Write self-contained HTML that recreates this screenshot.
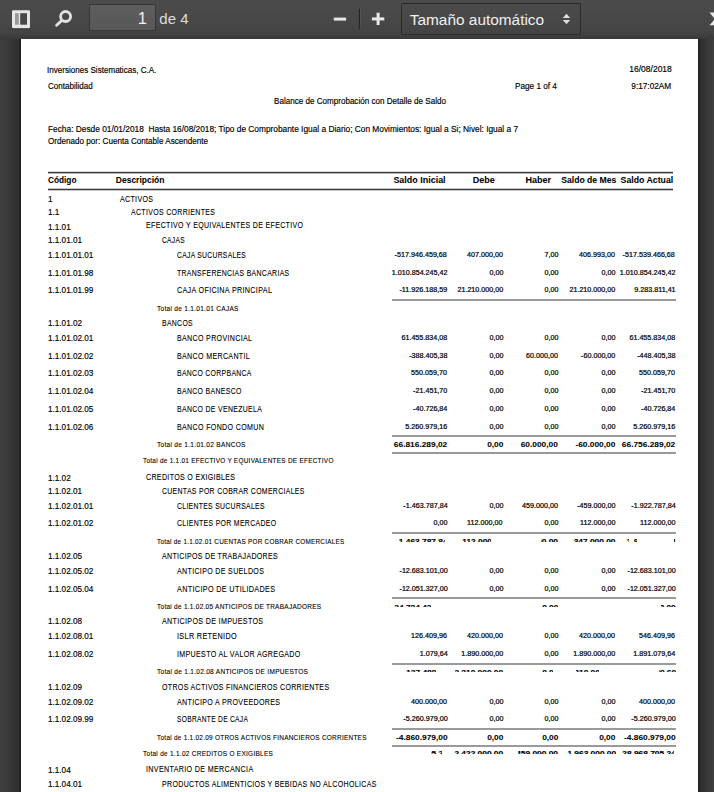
<!DOCTYPE html>
<html><head><meta charset="utf-8"><style>
html,body{margin:0;padding:0;width:714px;height:792px;overflow:hidden;background:#3d3d3d;}
body{position:relative;font-family:"Liberation Sans",sans-serif;}
#doc span{position:absolute;white-space:nowrap;line-height:normal;color:#000;-webkit-text-stroke:0.16px #000;}
#leftbg{position:absolute;left:0;top:39px;width:21px;height:753px;background:linear-gradient(90deg,#3e3e3e 0px,#3a3a3a 8px,#2e2e2e 19px,#1e1e1e 20px,#1e1e1e 21px);}
#rightbg{position:absolute;left:698px;top:39px;width:16px;height:753px;background:linear-gradient(90deg,#1e1e1e 0px,#2c2c2c 2px,#393939 10px,#3e3e3e 16px);}
#pagebg{position:absolute;left:21px;top:39px;width:677px;height:753px;background:#fff;}
#toolbar{position:absolute;left:0;top:0;width:714px;height:39px;background:linear-gradient(#4b4b4b 0%,#474747 60%,#434343 85%,#383838 100%);z-index:5;}
#toolbar .ic{position:absolute;z-index:2;}
.tf{position:absolute;box-sizing:border-box;border:1px solid rgba(0,0,0,.4);border-radius:2px;}
.tt{position:absolute;white-space:nowrap;line-height:normal;font-family:"Liberation Sans",sans-serif;}

</style></head><body>
<div id="leftbg"></div>
<div id="rightbg"></div>
<div id="pagebg"></div>
<div id="toolbar">
  <svg class="ic" style="left:0;top:0" width="714" height="39" viewBox="0 0 714 39">
    <!-- sidebar toggle -->
    <rect x="12" y="10.2" width="18" height="18" rx="1.2" fill="#e6e6e6"/>
    <rect x="12" y="28.2" width="18" height="1" fill="rgba(0,0,0,.25)"/>
    <rect x="15" y="13.2" width="3.8" height="11.5" fill="#9a9a9a"/>
    <rect x="20.2" y="13.2" width="6.8" height="11.5" fill="#484848"/>
    <!-- search -->
    <circle cx="65.6" cy="16.5" r="5" fill="none" stroke="#e2e2e2" stroke-width="2.8"/>
    <line x1="56.6" y1="25.2" x2="61.6" y2="20.6" stroke="#e2e2e2" stroke-width="2.8" stroke-linecap="round"/>
    <!-- minus -->
    <rect x="333.8" y="17.6" width="12.3" height="3" fill="#e8e8e8"/>
    <!-- separator -->
    <rect x="358.8" y="8.8" width="1.2" height="20" fill="#262626"/>
    <rect x="360" y="8.8" width="1" height="20" fill="rgba(255,255,255,.05)"/>
    <!-- plus -->
    <rect x="371.9" y="17.4" width="12.4" height="3" fill="#e8e8e8"/>
    <rect x="376.6" y="12.7" width="3" height="12.3" fill="#e8e8e8"/>
    <!-- select arrows -->
    <polygon points="562.8,18.1 570.2,18.1 566.5,13.7" fill="#e0e0e0"/>
    <polygon points="562.8,20.1 570.2,20.1 566.5,24.2" fill="#e0e0e0"/>
    <!-- partial right icon -->
    <polygon points="709.5,12.6 714,12.6 714,18 " fill="#e8e8e8"/>
    <polygon points="709.5,25.2 714,25.2 714,20 " fill="#e8e8e8"/>
  </svg>
  <div class="tf" style="left:89px;top:4px;width:67px;height:27px;background:linear-gradient(#5e5e5e,#575757);"></div>
  <div class="tt" style="right:567.2px;top:9.3px;font-size:16.5px;color:#f0f0f0;">1</div>
  <div class="tt" style="left:159.3px;top:10.3px;font-size:15px;color:#dcdcdc;">de 4</div>
  <div class="tf" style="left:401px;top:3px;width:180px;height:32px;background:linear-gradient(#4b4b4b,#444);"></div>
  <div class="tt" style="left:409.8px;top:11.3px;font-size:15.4px;color:#f0f0f0;">Tamaño automático</div>
</div>

<div id="doc" style="position:absolute;left:0;top:0;width:714px;height:792px;">
<div style='position:absolute;left:48px;top:171px;width:625px;height:1px;background:#d8d8d8;'></div>
<div style='position:absolute;left:47.5px;top:172px;width:625.7px;height:1px;background:#3a3a3a;'></div>
<div style='position:absolute;left:48px;top:173px;width:625px;height:1px;background:#b8b8b8;'></div>
<div style='position:absolute;left:48px;top:188px;width:625px;height:1px;background:#c8c8c8;'></div>
<div style='position:absolute;left:47.5px;top:189px;width:625.7px;height:1px;background:#3a3a3a;'></div>
<div style='position:absolute;left:48px;top:190px;width:625px;height:1px;background:#c8c8c8;'></div>
<div style='position:absolute;left:392px;top:299px;width:284px;height:2px;background:#9a9a9a;'></div>
<div style='position:absolute;left:392px;top:435px;width:284px;height:2px;background:#9a9a9a;'></div>
<div style='position:absolute;left:392px;top:452px;width:284px;height:2px;background:#9a9a9a;'></div>
<div style='position:absolute;left:392px;top:532px;width:284px;height:2px;background:#9a9a9a;'></div>
<div style='position:absolute;left:392px;top:597px;width:284px;height:2px;background:#9a9a9a;'></div>
<div style='position:absolute;left:392px;top:663px;width:284px;height:2px;background:#9a9a9a;'></div>
<div style='position:absolute;left:392px;top:728px;width:284px;height:2px;background:#9a9a9a;'></div>
<div style='position:absolute;left:392px;top:745px;width:284px;height:2px;background:#9a9a9a;'></div><div style='position:absolute;left:395px;top:538.3px;width:49.50px;height:3.30px;overflow:hidden;'><span style='top:-1.00px;right:-3.20px;font-size:7.4px;font-weight:bold;transform-origin:100% 0;transform:scaleX(1.13);'>-1.463.787,84</span><span style='top:-1.00px;right:-58.80px;font-size:7.4px;font-weight:bold;transform-origin:100% 0;transform:scaleX(1.13);'>112.000,00</span><span style='top:-1.00px;right:-113.80px;font-size:7.4px;font-weight:bold;transform-origin:100% 0;transform:scaleX(1.13);'>459.000,00</span><span style='top:-1.00px;right:-171.20px;font-size:7.4px;font-weight:bold;transform-origin:100% 0;transform:scaleX(1.13);'>-347.000,00</span><span style='top:-1.00px;right:-231.20px;font-size:7.4px;font-weight:bold;transform-origin:100% 0;transform:scaleX(1.13);'>-1.810.787,84</span></div>
<div style='position:absolute;left:461.5px;top:538.3px;width:29.50px;height:3.30px;overflow:hidden;'><span style='top:-1.00px;right:43.30px;font-size:7.4px;font-weight:bold;transform-origin:100% 0;transform:scaleX(1.13);'>-1.463.787,84</span><span style='top:-1.00px;right:-12.30px;font-size:7.4px;font-weight:bold;transform-origin:100% 0;transform:scaleX(1.13);'>112.000,00</span><span style='top:-1.00px;right:-67.30px;font-size:7.4px;font-weight:bold;transform-origin:100% 0;transform:scaleX(1.13);'>459.000,00</span><span style='top:-1.00px;right:-124.70px;font-size:7.4px;font-weight:bold;transform-origin:100% 0;transform:scaleX(1.13);'>-347.000,00</span><span style='top:-1.00px;right:-184.70px;font-size:7.4px;font-weight:bold;transform-origin:100% 0;transform:scaleX(1.13);'>-1.810.787,84</span></div>
<div style='position:absolute;left:540.5px;top:538.3px;width:18.50px;height:3.30px;overflow:hidden;'><span style='top:-1.00px;right:111.30px;font-size:7.4px;font-weight:bold;transform-origin:100% 0;transform:scaleX(1.13);'>-1.463.787,84</span><span style='top:-1.00px;right:55.70px;font-size:7.4px;font-weight:bold;transform-origin:100% 0;transform:scaleX(1.13);'>112.000,00</span><span style='top:-1.00px;right:0.70px;font-size:7.4px;font-weight:bold;transform-origin:100% 0;transform:scaleX(1.13);'>459.000,00</span><span style='top:-1.00px;right:-56.70px;font-size:7.4px;font-weight:bold;transform-origin:100% 0;transform:scaleX(1.13);'>-347.000,00</span><span style='top:-1.00px;right:-116.70px;font-size:7.4px;font-weight:bold;transform-origin:100% 0;transform:scaleX(1.13);'>-1.810.787,84</span></div>
<div style='position:absolute;left:572.5px;top:538.3px;width:43.50px;height:3.30px;overflow:hidden;'><span style='top:-1.00px;right:168.30px;font-size:7.4px;font-weight:bold;transform-origin:100% 0;transform:scaleX(1.13);'>-1.463.787,84</span><span style='top:-1.00px;right:112.70px;font-size:7.4px;font-weight:bold;transform-origin:100% 0;transform:scaleX(1.13);'>112.000,00</span><span style='top:-1.00px;right:57.70px;font-size:7.4px;font-weight:bold;transform-origin:100% 0;transform:scaleX(1.13);'>459.000,00</span><span style='top:-1.00px;right:0.30px;font-size:7.4px;font-weight:bold;transform-origin:100% 0;transform:scaleX(1.13);'>-347.000,00</span><span style='top:-1.00px;right:-59.70px;font-size:7.4px;font-weight:bold;transform-origin:100% 0;transform:scaleX(1.13);'>-1.810.787,84</span></div>
<div style='position:absolute;left:625.5px;top:538.3px;width:3.00px;height:3.30px;overflow:hidden;'><span style='top:-1.00px;right:180.80px;font-size:7.4px;font-weight:bold;transform-origin:100% 0;transform:scaleX(1.13);'>-1.463.787,84</span><span style='top:-1.00px;right:125.20px;font-size:7.4px;font-weight:bold;transform-origin:100% 0;transform:scaleX(1.13);'>112.000,00</span><span style='top:-1.00px;right:70.20px;font-size:7.4px;font-weight:bold;transform-origin:100% 0;transform:scaleX(1.13);'>459.000,00</span><span style='top:-1.00px;right:12.80px;font-size:7.4px;font-weight:bold;transform-origin:100% 0;transform:scaleX(1.13);'>-347.000,00</span><span style='top:-1.00px;right:-47.20px;font-size:7.4px;font-weight:bold;transform-origin:100% 0;transform:scaleX(1.13);'>-1.810.787,84</span></div>
<div style='position:absolute;left:633.5px;top:538.3px;width:3.00px;height:3.30px;overflow:hidden;'><span style='top:-1.00px;right:188.80px;font-size:7.4px;font-weight:bold;transform-origin:100% 0;transform:scaleX(1.13);'>-1.463.787,84</span><span style='top:-1.00px;right:133.20px;font-size:7.4px;font-weight:bold;transform-origin:100% 0;transform:scaleX(1.13);'>112.000,00</span><span style='top:-1.00px;right:78.20px;font-size:7.4px;font-weight:bold;transform-origin:100% 0;transform:scaleX(1.13);'>459.000,00</span><span style='top:-1.00px;right:20.80px;font-size:7.4px;font-weight:bold;transform-origin:100% 0;transform:scaleX(1.13);'>-347.000,00</span><span style='top:-1.00px;right:-39.20px;font-size:7.4px;font-weight:bold;transform-origin:100% 0;transform:scaleX(1.13);'>-1.810.787,84</span></div>
<div style='position:absolute;left:673.5px;top:538.3px;width:2.50px;height:3.30px;overflow:hidden;'><span style='top:-1.00px;right:228.30px;font-size:7.4px;font-weight:bold;transform-origin:100% 0;transform:scaleX(1.13);'>-1.463.787,84</span><span style='top:-1.00px;right:172.70px;font-size:7.4px;font-weight:bold;transform-origin:100% 0;transform:scaleX(1.13);'>112.000,00</span><span style='top:-1.00px;right:117.70px;font-size:7.4px;font-weight:bold;transform-origin:100% 0;transform:scaleX(1.13);'>459.000,00</span><span style='top:-1.00px;right:60.30px;font-size:7.4px;font-weight:bold;transform-origin:100% 0;transform:scaleX(1.13);'>-347.000,00</span><span style='top:-1.00px;right:0.30px;font-size:7.4px;font-weight:bold;transform-origin:100% 0;transform:scaleX(1.13);'>-1.810.787,84</span></div>
<div style='position:absolute;left:393.5px;top:604.0px;width:37.00px;height:3.20px;overflow:hidden;'><span style='top:-1.10px;right:-17.20px;font-size:7.4px;font-weight:bold;transform-origin:100% 0;transform:scaleX(1.13);'>-24.734.428,00</span><span style='top:-1.10px;right:-72.80px;font-size:7.4px;font-weight:bold;transform-origin:100% 0;transform:scaleX(1.13);'>0,00</span><span style='top:-1.10px;right:-127.80px;font-size:7.4px;font-weight:bold;transform-origin:100% 0;transform:scaleX(1.13);'>0,00</span><span style='top:-1.10px;right:-185.20px;font-size:7.4px;font-weight:bold;transform-origin:100% 0;transform:scaleX(1.13);'>0,00</span><span style='top:-1.10px;right:-245.20px;font-size:7.4px;font-weight:bold;transform-origin:100% 0;transform:scaleX(1.13);'>-24.734.428,00</span></div>
<div style='position:absolute;left:541.5px;top:604.0px;width:16.00px;height:3.20px;overflow:hidden;'><span style='top:-1.10px;right:109.80px;font-size:7.4px;font-weight:bold;transform-origin:100% 0;transform:scaleX(1.13);'>-24.734.428,00</span><span style='top:-1.10px;right:54.20px;font-size:7.4px;font-weight:bold;transform-origin:100% 0;transform:scaleX(1.13);'>0,00</span><span style='top:-1.10px;right:-0.80px;font-size:7.4px;font-weight:bold;transform-origin:100% 0;transform:scaleX(1.13);'>0,00</span><span style='top:-1.10px;right:-58.20px;font-size:7.4px;font-weight:bold;transform-origin:100% 0;transform:scaleX(1.13);'>0,00</span><span style='top:-1.10px;right:-118.20px;font-size:7.4px;font-weight:bold;transform-origin:100% 0;transform:scaleX(1.13);'>-24.734.428,00</span></div>
<div style='position:absolute;left:661px;top:604.0px;width:15.00px;height:3.20px;overflow:hidden;'><span style='top:-1.10px;right:228.30px;font-size:7.4px;font-weight:bold;transform-origin:100% 0;transform:scaleX(1.13);'>-24.734.428,00</span><span style='top:-1.10px;right:172.70px;font-size:7.4px;font-weight:bold;transform-origin:100% 0;transform:scaleX(1.13);'>0,00</span><span style='top:-1.10px;right:117.70px;font-size:7.4px;font-weight:bold;transform-origin:100% 0;transform:scaleX(1.13);'>0,00</span><span style='top:-1.10px;right:60.30px;font-size:7.4px;font-weight:bold;transform-origin:100% 0;transform:scaleX(1.13);'>0,00</span><span style='top:-1.10px;right:0.30px;font-size:7.4px;font-weight:bold;transform-origin:100% 0;transform:scaleX(1.13);'>-24.734.428,00</span></div>
<div style='position:absolute;left:405px;top:668.8px;width:31.00px;height:3.50px;overflow:hidden;'><span style='top:-0.90px;right:-11.70px;font-size:7.4px;font-weight:bold;transform-origin:100% 0;transform:scaleX(1.13);'>127.489,60</span><span style='top:-0.90px;right:-67.30px;font-size:7.4px;font-weight:bold;transform-origin:100% 0;transform:scaleX(1.13);'>2.310.000,00</span><span style='top:-0.90px;right:-122.30px;font-size:7.4px;font-weight:bold;transform-origin:100% 0;transform:scaleX(1.13);'>0,00</span><span style='top:-0.90px;right:-179.70px;font-size:7.4px;font-weight:bold;transform-origin:100% 0;transform:scaleX(1.13);'>2.310.000,00</span><span style='top:-0.90px;right:-239.70px;font-size:7.4px;font-weight:bold;transform-origin:100% 0;transform:scaleX(1.13);'>2.437.489,60</span></div>
<div style='position:absolute;left:454.5px;top:668.8px;width:49.50px;height:3.50px;overflow:hidden;'><span style='top:-0.90px;right:56.30px;font-size:7.4px;font-weight:bold;transform-origin:100% 0;transform:scaleX(1.13);'>127.489,60</span><span style='top:-0.90px;right:0.70px;font-size:7.4px;font-weight:bold;transform-origin:100% 0;transform:scaleX(1.13);'>2.310.000,00</span><span style='top:-0.90px;right:-54.30px;font-size:7.4px;font-weight:bold;transform-origin:100% 0;transform:scaleX(1.13);'>0,00</span><span style='top:-0.90px;right:-111.70px;font-size:7.4px;font-weight:bold;transform-origin:100% 0;transform:scaleX(1.13);'>2.310.000,00</span><span style='top:-0.90px;right:-171.70px;font-size:7.4px;font-weight:bold;transform-origin:100% 0;transform:scaleX(1.13);'>2.437.489,60</span></div>
<div style='position:absolute;left:541.5px;top:668.8px;width:11.50px;height:3.50px;overflow:hidden;'><span style='top:-0.90px;right:105.30px;font-size:7.4px;font-weight:bold;transform-origin:100% 0;transform:scaleX(1.13);'>127.489,60</span><span style='top:-0.90px;right:49.70px;font-size:7.4px;font-weight:bold;transform-origin:100% 0;transform:scaleX(1.13);'>2.310.000,00</span><span style='top:-0.90px;right:-5.30px;font-size:7.4px;font-weight:bold;transform-origin:100% 0;transform:scaleX(1.13);'>0,00</span><span style='top:-0.90px;right:-62.70px;font-size:7.4px;font-weight:bold;transform-origin:100% 0;transform:scaleX(1.13);'>2.310.000,00</span><span style='top:-0.90px;right:-122.70px;font-size:7.4px;font-weight:bold;transform-origin:100% 0;transform:scaleX(1.13);'>2.437.489,60</span></div>
<div style='position:absolute;left:576px;top:668.8px;width:22.50px;height:3.50px;overflow:hidden;'><span style='top:-0.90px;right:150.80px;font-size:7.4px;font-weight:bold;transform-origin:100% 0;transform:scaleX(1.13);'>127.489,60</span><span style='top:-0.90px;right:95.20px;font-size:7.4px;font-weight:bold;transform-origin:100% 0;transform:scaleX(1.13);'>2.310.000,00</span><span style='top:-0.90px;right:40.20px;font-size:7.4px;font-weight:bold;transform-origin:100% 0;transform:scaleX(1.13);'>0,00</span><span style='top:-0.90px;right:-17.20px;font-size:7.4px;font-weight:bold;transform-origin:100% 0;transform:scaleX(1.13);'>2.310.000,00</span><span style='top:-0.90px;right:-77.20px;font-size:7.4px;font-weight:bold;transform-origin:100% 0;transform:scaleX(1.13);'>2.437.489,60</span></div>
<div style='position:absolute;left:659px;top:668.8px;width:17.00px;height:3.50px;overflow:hidden;'><span style='top:-0.90px;right:228.30px;font-size:7.4px;font-weight:bold;transform-origin:100% 0;transform:scaleX(1.13);'>127.489,60</span><span style='top:-0.90px;right:172.70px;font-size:7.4px;font-weight:bold;transform-origin:100% 0;transform:scaleX(1.13);'>2.310.000,00</span><span style='top:-0.90px;right:117.70px;font-size:7.4px;font-weight:bold;transform-origin:100% 0;transform:scaleX(1.13);'>0,00</span><span style='top:-0.90px;right:60.30px;font-size:7.4px;font-weight:bold;transform-origin:100% 0;transform:scaleX(1.13);'>2.310.000,00</span><span style='top:-0.90px;right:0.30px;font-size:7.4px;font-weight:bold;transform-origin:100% 0;transform:scaleX(1.13);'>2.437.489,60</span></div>
<div style='position:absolute;left:392px;top:750.3px;width:1.50px;height:4.20px;overflow:hidden;'><span style='top:-1.40px;right:-54.20px;font-size:7.4px;font-weight:bold;transform-origin:100% 0;transform:scaleX(1.13);'>-30.931.705,24</span><span style='top:-1.40px;right:-109.80px;font-size:7.4px;font-weight:bold;transform-origin:100% 0;transform:scaleX(1.13);'>2.422.000,00</span><span style='top:-1.40px;right:-164.80px;font-size:7.4px;font-weight:bold;transform-origin:100% 0;transform:scaleX(1.13);'>459.000,00</span><span style='top:-1.40px;right:-222.20px;font-size:7.4px;font-weight:bold;transform-origin:100% 0;transform:scaleX(1.13);'>1.963.000,00</span><span style='top:-1.40px;right:-282.20px;font-size:7.4px;font-weight:bold;transform-origin:100% 0;transform:scaleX(1.13);'>-28.968.705,24</span></div>
<div style='position:absolute;left:431px;top:750.3px;width:11.00px;height:4.20px;overflow:hidden;'><span style='top:-1.40px;right:-5.70px;font-size:7.4px;font-weight:bold;transform-origin:100% 0;transform:scaleX(1.13);'>-30.931.705,24</span><span style='top:-1.40px;right:-61.30px;font-size:7.4px;font-weight:bold;transform-origin:100% 0;transform:scaleX(1.13);'>2.422.000,00</span><span style='top:-1.40px;right:-116.30px;font-size:7.4px;font-weight:bold;transform-origin:100% 0;transform:scaleX(1.13);'>459.000,00</span><span style='top:-1.40px;right:-173.70px;font-size:7.4px;font-weight:bold;transform-origin:100% 0;transform:scaleX(1.13);'>1.963.000,00</span><span style='top:-1.40px;right:-233.70px;font-size:7.4px;font-weight:bold;transform-origin:100% 0;transform:scaleX(1.13);'>-28.968.705,24</span></div>
<div style='position:absolute;left:452.5px;top:750.3px;width:51.50px;height:4.20px;overflow:hidden;'><span style='top:-1.40px;right:56.30px;font-size:7.4px;font-weight:bold;transform-origin:100% 0;transform:scaleX(1.13);'>-30.931.705,24</span><span style='top:-1.40px;right:0.70px;font-size:7.4px;font-weight:bold;transform-origin:100% 0;transform:scaleX(1.13);'>2.422.000,00</span><span style='top:-1.40px;right:-54.30px;font-size:7.4px;font-weight:bold;transform-origin:100% 0;transform:scaleX(1.13);'>459.000,00</span><span style='top:-1.40px;right:-111.70px;font-size:7.4px;font-weight:bold;transform-origin:100% 0;transform:scaleX(1.13);'>1.963.000,00</span><span style='top:-1.40px;right:-171.70px;font-size:7.4px;font-weight:bold;transform-origin:100% 0;transform:scaleX(1.13);'>-28.968.705,24</span></div>
<div style='position:absolute;left:517.5px;top:750.3px;width:41.50px;height:4.20px;overflow:hidden;'><span style='top:-1.40px;right:111.30px;font-size:7.4px;font-weight:bold;transform-origin:100% 0;transform:scaleX(1.13);'>-30.931.705,24</span><span style='top:-1.40px;right:55.70px;font-size:7.4px;font-weight:bold;transform-origin:100% 0;transform:scaleX(1.13);'>2.422.000,00</span><span style='top:-1.40px;right:0.70px;font-size:7.4px;font-weight:bold;transform-origin:100% 0;transform:scaleX(1.13);'>459.000,00</span><span style='top:-1.40px;right:-56.70px;font-size:7.4px;font-weight:bold;transform-origin:100% 0;transform:scaleX(1.13);'>1.963.000,00</span><span style='top:-1.40px;right:-116.70px;font-size:7.4px;font-weight:bold;transform-origin:100% 0;transform:scaleX(1.13);'>-28.968.705,24</span></div>
<div style='position:absolute;left:566.5px;top:750.3px;width:49.50px;height:4.20px;overflow:hidden;'><span style='top:-1.40px;right:168.30px;font-size:7.4px;font-weight:bold;transform-origin:100% 0;transform:scaleX(1.13);'>-30.931.705,24</span><span style='top:-1.40px;right:112.70px;font-size:7.4px;font-weight:bold;transform-origin:100% 0;transform:scaleX(1.13);'>2.422.000,00</span><span style='top:-1.40px;right:57.70px;font-size:7.4px;font-weight:bold;transform-origin:100% 0;transform:scaleX(1.13);'>459.000,00</span><span style='top:-1.40px;right:0.30px;font-size:7.4px;font-weight:bold;transform-origin:100% 0;transform:scaleX(1.13);'>1.963.000,00</span><span style='top:-1.40px;right:-59.70px;font-size:7.4px;font-weight:bold;transform-origin:100% 0;transform:scaleX(1.13);'>-28.968.705,24</span></div>
<div style='position:absolute;left:618px;top:750.3px;width:56.00px;height:4.20px;overflow:hidden;'><span style='top:-1.40px;right:226.30px;font-size:7.4px;font-weight:bold;transform-origin:100% 0;transform:scaleX(1.13);'>-30.931.705,24</span><span style='top:-1.40px;right:170.70px;font-size:7.4px;font-weight:bold;transform-origin:100% 0;transform:scaleX(1.13);'>2.422.000,00</span><span style='top:-1.40px;right:115.70px;font-size:7.4px;font-weight:bold;transform-origin:100% 0;transform:scaleX(1.13);'>459.000,00</span><span style='top:-1.40px;right:58.30px;font-size:7.4px;font-weight:bold;transform-origin:100% 0;transform:scaleX(1.13);'>1.963.000,00</span><span style='top:-1.40px;right:-1.70px;font-size:7.4px;font-weight:bold;transform-origin:100% 0;transform:scaleX(1.13);'>-28.968.705,24</span></div>
<span id='t0' style='top:64.51px;font-size:8.5px;left:47.00px;transform-origin:0 0;transform:scaleX(0.9488);'>Inversiones Sistematicas, C.A.</span>
<span id='t1' style='top:81.31px;font-size:8.5px;left:47.80px;transform-origin:0 0;transform:scaleX(0.9472);'>Contabilidad</span>
<span id='t2' style='top:63.81px;font-size:8.5px;right:42.20px;transform-origin:100% 0;'>16/08/2018</span>
<span id='t3' style='top:81.31px;font-size:8.5px;left:514.60px;transform-origin:0 0;transform:scaleX(0.9631);'>Page 1 of 4</span>
<span id='t4' style='top:81.31px;font-size:8.5px;right:42.40px;transform-origin:100% 0;transform:scaleX(0.9673);'>9:17:02AM</span>
<span id='t5' style='top:96.01px;font-size:8.5px;left:274.00px;transform-origin:0 0;transform:scaleX(0.9502);'>Balance de Comprobación con Detalle de Saldo</span>
<span id='t6' style='top:123.81px;font-size:8.5px;left:47.60px;transform-origin:0 0;transform:scaleX(0.9792);'>Fecha: Desde 01/01/2018&nbsp; Hasta 16/08/2018; Tipo de Comprobante Igual a Diario; Con Movimientos: Igual a Si; Nivel: Igual a 7</span>
<span id='t7' style='top:136.31px;font-size:8.5px;left:47.50px;transform-origin:0 0;transform:scaleX(0.9541);'>Ordenado por: Cuenta Contable Ascendente</span>
<span id='t8' style='top:175.31px;font-size:8.5px;font-weight:bold;-webkit-text-stroke:0.05px #000;left:47.60px;transform-origin:0 0;transform:scaleX(0.9728);'>Código</span>
<span id='t9' style='top:175.31px;font-size:8.5px;font-weight:bold;-webkit-text-stroke:0.05px #000;left:115.80px;transform-origin:0 0;'>Descripción</span>
<span id='t10' style='top:175.31px;font-size:8.5px;font-weight:bold;-webkit-text-stroke:0.05px #000;right:268.70px;transform-origin:100% 0;transform:scaleX(1.0529);'>Saldo Inicial</span>
<span id='t11' style='top:175.31px;font-size:8.5px;font-weight:bold;-webkit-text-stroke:0.05px #000;right:219.60px;transform-origin:100% 0;transform:scaleX(1.0596);'>Debe</span>
<span id='t12' style='top:175.31px;font-size:8.5px;font-weight:bold;-webkit-text-stroke:0.05px #000;right:163.00px;transform-origin:100% 0;transform:scaleX(1.0641);'>Haber</span>
<span id='t13' style='top:175.31px;font-size:8.5px;font-weight:bold;-webkit-text-stroke:0.05px #000;right:97.70px;transform-origin:100% 0;transform:scaleX(1.0144);'>Saldo de Mes</span>
<span id='t14' style='top:175.31px;font-size:8.5px;font-weight:bold;-webkit-text-stroke:0.05px #000;right:41.00px;transform-origin:100% 0;transform:scaleX(1.0282);'>Saldo Actual</span>
<span id='t15' style='top:193.81px;font-size:8.5px;left:47.50px;transform-origin:0 0;transform:scaleX(0.9600);'>1</span>
<span id='t16' style='top:193.81px;font-size:8.5px;letter-spacing:0.4px;-webkit-text-stroke:0.1px #000;left:120.40px;transform-origin:0 0;transform:scaleX(0.8299);'>ACTIVOS</span>
<span id='t17' style='top:207.31px;font-size:8.5px;left:47.50px;transform-origin:0 0;transform:scaleX(0.9600);'>1.1</span>
<span id='t18' style='top:207.31px;font-size:8.5px;letter-spacing:0.4px;-webkit-text-stroke:0.1px #000;left:130.60px;transform-origin:0 0;transform:scaleX(0.8215);'>ACTIVOS CORRIENTES</span>
<span id='t19' style='top:221.91px;font-size:8.5px;left:47.50px;transform-origin:0 0;transform:scaleX(0.9600);'>1.1.01</span>
<span id='t20' style='top:220.21px;font-size:8.5px;letter-spacing:0.4px;-webkit-text-stroke:0.1px #000;left:146.00px;transform-origin:0 0;transform:scaleX(0.8271);'>EFECTIVO Y EQUIVALENTES DE EFECTIVO</span>
<span id='t21' style='top:235.11px;font-size:8.5px;left:47.50px;transform-origin:0 0;transform:scaleX(0.9600);'>1.1.01.01</span>
<span id='t22' style='top:235.11px;font-size:8.5px;letter-spacing:0.4px;-webkit-text-stroke:0.1px #000;left:161.80px;transform-origin:0 0;transform:scaleX(0.7776);'>CAJAS</span>
<span id='t23' style='top:250.11px;font-size:8.5px;left:47.50px;transform-origin:0 0;transform:scaleX(0.9600);'>1.1.01.01.01</span>
<span id='t24' style='top:250.11px;font-size:8.5px;letter-spacing:0.4px;-webkit-text-stroke:0.1px #000;left:177.20px;transform-origin:0 0;transform:scaleX(0.7928);'>CAJA SUCURSALES</span>
<span id='t25' style='top:249.90px;font-size:7.4px;-webkit-text-stroke:0.22px #000;right:266.70px;transform-origin:100% 0;transform:scaleX(0.9700);'>-517.946.459,68</span>
<span id='t26' style='top:249.90px;font-size:7.4px;-webkit-text-stroke:0.22px #000;right:211.10px;transform-origin:100% 0;transform:scaleX(0.9700);'>407.000,00</span>
<span id='t27' style='top:249.90px;font-size:7.4px;-webkit-text-stroke:0.22px #000;right:156.10px;transform-origin:100% 0;transform:scaleX(0.9700);'>7,00</span>
<span id='t28' style='top:249.90px;font-size:7.4px;-webkit-text-stroke:0.22px #000;right:98.70px;transform-origin:100% 0;transform:scaleX(0.9700);'>406.993,00</span>
<span id='t29' style='top:249.90px;font-size:7.4px;-webkit-text-stroke:0.22px #000;right:38.70px;transform-origin:100% 0;transform:scaleX(0.9700);'>-517.539.466,68</span>
<span id='t30' style='top:268.31px;font-size:8.5px;left:47.50px;transform-origin:0 0;transform:scaleX(0.9600);'>1.1.01.01.98</span>
<span id='t31' style='top:268.31px;font-size:8.5px;letter-spacing:0.4px;-webkit-text-stroke:0.1px #000;left:177.20px;transform-origin:0 0;transform:scaleX(0.8119);'>TRANSFERENCIAS BANCARIAS</span>
<span id='t32' style='top:268.10px;font-size:7.4px;-webkit-text-stroke:0.22px #000;right:266.70px;transform-origin:100% 0;transform:scaleX(0.9700);'>1.010.854.245,42</span>
<span id='t33' style='top:268.10px;font-size:7.4px;-webkit-text-stroke:0.22px #000;right:211.10px;transform-origin:100% 0;transform:scaleX(0.9700);'>0,00</span>
<span id='t34' style='top:268.10px;font-size:7.4px;-webkit-text-stroke:0.22px #000;right:156.10px;transform-origin:100% 0;transform:scaleX(0.9700);'>0,00</span>
<span id='t35' style='top:268.10px;font-size:7.4px;-webkit-text-stroke:0.22px #000;right:98.70px;transform-origin:100% 0;transform:scaleX(0.9700);'>0,00</span>
<span id='t36' style='top:268.10px;font-size:7.4px;-webkit-text-stroke:0.22px #000;right:38.70px;transform-origin:100% 0;transform:scaleX(0.9700);'>1.010.854.245,42</span>
<span id='t37' style='top:285.21px;font-size:8.5px;left:47.50px;transform-origin:0 0;transform:scaleX(0.9600);'>1.1.01.01.99</span>
<span id='t38' style='top:285.21px;font-size:8.5px;letter-spacing:0.4px;-webkit-text-stroke:0.1px #000;left:177.20px;transform-origin:0 0;transform:scaleX(0.8423);'>CAJA OFICINA PRINCIPAL</span>
<span id='t39' style='top:285.00px;font-size:7.4px;-webkit-text-stroke:0.22px #000;right:266.70px;transform-origin:100% 0;transform:scaleX(0.9700);'>-11.926.188,59</span>
<span id='t40' style='top:285.00px;font-size:7.4px;-webkit-text-stroke:0.22px #000;right:211.10px;transform-origin:100% 0;transform:scaleX(0.9700);'>21.210.000,00</span>
<span id='t41' style='top:285.00px;font-size:7.4px;-webkit-text-stroke:0.22px #000;right:156.10px;transform-origin:100% 0;transform:scaleX(0.9700);'>0,00</span>
<span id='t42' style='top:285.00px;font-size:7.4px;-webkit-text-stroke:0.22px #000;right:98.70px;transform-origin:100% 0;transform:scaleX(0.9700);'>21.210.000,00</span>
<span id='t43' style='top:285.00px;font-size:7.4px;-webkit-text-stroke:0.22px #000;right:38.70px;transform-origin:100% 0;transform:scaleX(0.9700);'>9.283.811,41</span>
<span id='t44' style='top:318.21px;font-size:8.5px;left:47.50px;transform-origin:0 0;transform:scaleX(0.9600);'>1.1.01.02</span>
<span id='t45' style='top:318.21px;font-size:8.5px;letter-spacing:0.4px;-webkit-text-stroke:0.1px #000;left:161.80px;transform-origin:0 0;transform:scaleX(0.8091);'>BANCOS</span>
<span id='t46' style='top:333.11px;font-size:8.5px;left:47.50px;transform-origin:0 0;transform:scaleX(0.9600);'>1.1.01.02.01</span>
<span id='t47' style='top:333.11px;font-size:8.5px;letter-spacing:0.4px;-webkit-text-stroke:0.1px #000;left:177.20px;transform-origin:0 0;transform:scaleX(0.8322);'>BANCO PROVINCIAL</span>
<span id='t48' style='top:332.90px;font-size:7.4px;-webkit-text-stroke:0.22px #000;right:266.70px;transform-origin:100% 0;transform:scaleX(0.9700);'>61.455.834,08</span>
<span id='t49' style='top:332.90px;font-size:7.4px;-webkit-text-stroke:0.22px #000;right:211.10px;transform-origin:100% 0;transform:scaleX(0.9700);'>0,00</span>
<span id='t50' style='top:332.90px;font-size:7.4px;-webkit-text-stroke:0.22px #000;right:156.10px;transform-origin:100% 0;transform:scaleX(0.9700);'>0,00</span>
<span id='t51' style='top:332.90px;font-size:7.4px;-webkit-text-stroke:0.22px #000;right:98.70px;transform-origin:100% 0;transform:scaleX(0.9700);'>0,00</span>
<span id='t52' style='top:332.90px;font-size:7.4px;-webkit-text-stroke:0.22px #000;right:38.70px;transform-origin:100% 0;transform:scaleX(0.9700);'>61.455.834,08</span>
<span id='t53' style='top:351.01px;font-size:8.5px;left:47.50px;transform-origin:0 0;transform:scaleX(0.9600);'>1.1.01.02.02</span>
<span id='t54' style='top:351.01px;font-size:8.5px;letter-spacing:0.4px;-webkit-text-stroke:0.1px #000;left:177.20px;transform-origin:0 0;transform:scaleX(0.8333);'>BANCO MERCANTIL</span>
<span id='t55' style='top:350.80px;font-size:7.4px;-webkit-text-stroke:0.22px #000;right:266.70px;transform-origin:100% 0;transform:scaleX(0.9700);'>-388.405,38</span>
<span id='t56' style='top:350.80px;font-size:7.4px;-webkit-text-stroke:0.22px #000;right:211.10px;transform-origin:100% 0;transform:scaleX(0.9700);'>0,00</span>
<span id='t57' style='top:350.80px;font-size:7.4px;-webkit-text-stroke:0.22px #000;right:156.10px;transform-origin:100% 0;transform:scaleX(0.9700);'>60.000,00</span>
<span id='t58' style='top:350.80px;font-size:7.4px;-webkit-text-stroke:0.22px #000;right:98.70px;transform-origin:100% 0;transform:scaleX(0.9700);'>-60.000,00</span>
<span id='t59' style='top:350.80px;font-size:7.4px;-webkit-text-stroke:0.22px #000;right:38.70px;transform-origin:100% 0;transform:scaleX(0.9700);'>-448.405,38</span>
<span id='t60' style='top:368.41px;font-size:8.5px;left:47.50px;transform-origin:0 0;transform:scaleX(0.9600);'>1.1.01.02.03</span>
<span id='t61' style='top:368.41px;font-size:8.5px;letter-spacing:0.4px;-webkit-text-stroke:0.1px #000;left:177.20px;transform-origin:0 0;transform:scaleX(0.8090);'>BANCO CORPBANCA</span>
<span id='t62' style='top:368.20px;font-size:7.4px;-webkit-text-stroke:0.22px #000;right:266.70px;transform-origin:100% 0;transform:scaleX(0.9700);'>550.059,70</span>
<span id='t63' style='top:368.20px;font-size:7.4px;-webkit-text-stroke:0.22px #000;right:211.10px;transform-origin:100% 0;transform:scaleX(0.9700);'>0,00</span>
<span id='t64' style='top:368.20px;font-size:7.4px;-webkit-text-stroke:0.22px #000;right:156.10px;transform-origin:100% 0;transform:scaleX(0.9700);'>0,00</span>
<span id='t65' style='top:368.20px;font-size:7.4px;-webkit-text-stroke:0.22px #000;right:98.70px;transform-origin:100% 0;transform:scaleX(0.9700);'>0,00</span>
<span id='t66' style='top:368.20px;font-size:7.4px;-webkit-text-stroke:0.22px #000;right:38.70px;transform-origin:100% 0;transform:scaleX(0.9700);'>550.059,70</span>
<span id='t67' style='top:386.31px;font-size:8.5px;left:47.50px;transform-origin:0 0;transform:scaleX(0.9600);'>1.1.01.02.04</span>
<span id='t68' style='top:386.31px;font-size:8.5px;letter-spacing:0.4px;-webkit-text-stroke:0.1px #000;left:177.20px;transform-origin:0 0;transform:scaleX(0.8151);'>BANCO BANESCO</span>
<span id='t69' style='top:386.10px;font-size:7.4px;-webkit-text-stroke:0.22px #000;right:266.70px;transform-origin:100% 0;transform:scaleX(0.9700);'>-21.451,70</span>
<span id='t70' style='top:386.10px;font-size:7.4px;-webkit-text-stroke:0.22px #000;right:211.10px;transform-origin:100% 0;transform:scaleX(0.9700);'>0,00</span>
<span id='t71' style='top:386.10px;font-size:7.4px;-webkit-text-stroke:0.22px #000;right:156.10px;transform-origin:100% 0;transform:scaleX(0.9700);'>0,00</span>
<span id='t72' style='top:386.10px;font-size:7.4px;-webkit-text-stroke:0.22px #000;right:98.70px;transform-origin:100% 0;transform:scaleX(0.9700);'>0,00</span>
<span id='t73' style='top:386.10px;font-size:7.4px;-webkit-text-stroke:0.22px #000;right:38.70px;transform-origin:100% 0;transform:scaleX(0.9700);'>-21.451,70</span>
<span id='t74' style='top:404.41px;font-size:8.5px;left:47.50px;transform-origin:0 0;transform:scaleX(0.9600);'>1.1.01.02.05</span>
<span id='t75' style='top:404.41px;font-size:8.5px;letter-spacing:0.4px;-webkit-text-stroke:0.1px #000;left:177.20px;transform-origin:0 0;transform:scaleX(0.8141);'>BANCO DE VENEZUELA</span>
<span id='t76' style='top:404.20px;font-size:7.4px;-webkit-text-stroke:0.22px #000;right:266.70px;transform-origin:100% 0;transform:scaleX(0.9700);'>-40.726,84</span>
<span id='t77' style='top:404.20px;font-size:7.4px;-webkit-text-stroke:0.22px #000;right:211.10px;transform-origin:100% 0;transform:scaleX(0.9700);'>0,00</span>
<span id='t78' style='top:404.20px;font-size:7.4px;-webkit-text-stroke:0.22px #000;right:156.10px;transform-origin:100% 0;transform:scaleX(0.9700);'>0,00</span>
<span id='t79' style='top:404.20px;font-size:7.4px;-webkit-text-stroke:0.22px #000;right:98.70px;transform-origin:100% 0;transform:scaleX(0.9700);'>0,00</span>
<span id='t80' style='top:404.20px;font-size:7.4px;-webkit-text-stroke:0.22px #000;right:38.70px;transform-origin:100% 0;transform:scaleX(0.9700);'>-40.726,84</span>
<span id='t81' style='top:422.31px;font-size:8.5px;left:47.50px;transform-origin:0 0;transform:scaleX(0.9600);'>1.1.01.02.06</span>
<span id='t82' style='top:422.31px;font-size:8.5px;letter-spacing:0.4px;-webkit-text-stroke:0.1px #000;left:177.20px;transform-origin:0 0;transform:scaleX(0.8330);'>BANCO FONDO COMUN</span>
<span id='t83' style='top:422.10px;font-size:7.4px;-webkit-text-stroke:0.22px #000;right:266.70px;transform-origin:100% 0;transform:scaleX(0.9700);'>5.260.979,16</span>
<span id='t84' style='top:422.10px;font-size:7.4px;-webkit-text-stroke:0.22px #000;right:211.10px;transform-origin:100% 0;transform:scaleX(0.9700);'>0,00</span>
<span id='t85' style='top:422.10px;font-size:7.4px;-webkit-text-stroke:0.22px #000;right:156.10px;transform-origin:100% 0;transform:scaleX(0.9700);'>0,00</span>
<span id='t86' style='top:422.10px;font-size:7.4px;-webkit-text-stroke:0.22px #000;right:98.70px;transform-origin:100% 0;transform:scaleX(0.9700);'>0,00</span>
<span id='t87' style='top:422.10px;font-size:7.4px;-webkit-text-stroke:0.22px #000;right:38.70px;transform-origin:100% 0;transform:scaleX(0.9700);'>5.260.979,16</span>
<span id='t88' style='top:473.31px;font-size:8.5px;left:47.50px;transform-origin:0 0;transform:scaleX(0.9600);'>1.1.02</span>
<span id='t89' style='top:471.61px;font-size:8.5px;letter-spacing:0.4px;-webkit-text-stroke:0.1px #000;left:146.00px;transform-origin:0 0;transform:scaleX(0.8306);'>CREDITOS O EXIGIBLES</span>
<span id='t90' style='top:486.31px;font-size:8.5px;left:47.50px;transform-origin:0 0;transform:scaleX(0.9600);'>1.1.02.01</span>
<span id='t91' style='top:486.31px;font-size:8.5px;letter-spacing:0.4px;-webkit-text-stroke:0.1px #000;left:161.80px;transform-origin:0 0;transform:scaleX(0.8119);'>CUENTAS POR COBRAR COMERCIALES</span>
<span id='t92' style='top:501.31px;font-size:8.5px;left:47.50px;transform-origin:0 0;transform:scaleX(0.9600);'>1.1.02.01.01</span>
<span id='t93' style='top:501.31px;font-size:8.5px;letter-spacing:0.4px;-webkit-text-stroke:0.1px #000;left:177.20px;transform-origin:0 0;transform:scaleX(0.8042);'>CLIENTES SUCURSALES</span>
<span id='t94' style='top:501.10px;font-size:7.4px;-webkit-text-stroke:0.22px #000;right:266.70px;transform-origin:100% 0;transform:scaleX(0.9700);'>-1.463.787,84</span>
<span id='t95' style='top:501.10px;font-size:7.4px;-webkit-text-stroke:0.22px #000;right:211.10px;transform-origin:100% 0;transform:scaleX(0.9700);'>0,00</span>
<span id='t96' style='top:501.10px;font-size:7.4px;-webkit-text-stroke:0.22px #000;right:156.10px;transform-origin:100% 0;transform:scaleX(0.9700);'>459.000,00</span>
<span id='t97' style='top:501.10px;font-size:7.4px;-webkit-text-stroke:0.22px #000;right:98.70px;transform-origin:100% 0;transform:scaleX(0.9700);'>-459.000,00</span>
<span id='t98' style='top:501.10px;font-size:7.4px;-webkit-text-stroke:0.22px #000;right:38.70px;transform-origin:100% 0;transform:scaleX(0.9700);'>-1.922.787,84</span>
<span id='t99' style='top:518.11px;font-size:8.5px;left:47.50px;transform-origin:0 0;transform:scaleX(0.9600);'>1.1.02.01.02</span>
<span id='t100' style='top:518.11px;font-size:8.5px;letter-spacing:0.4px;-webkit-text-stroke:0.1px #000;left:177.20px;transform-origin:0 0;transform:scaleX(0.8131);'>CLIENTES POR MERCADEO</span>
<span id='t101' style='top:517.90px;font-size:7.4px;-webkit-text-stroke:0.22px #000;right:266.70px;transform-origin:100% 0;transform:scaleX(0.9700);'>0,00</span>
<span id='t102' style='top:517.90px;font-size:7.4px;-webkit-text-stroke:0.22px #000;right:211.10px;transform-origin:100% 0;transform:scaleX(0.9700);'>112.000,00</span>
<span id='t103' style='top:517.90px;font-size:7.4px;-webkit-text-stroke:0.22px #000;right:156.10px;transform-origin:100% 0;transform:scaleX(0.9700);'>0,00</span>
<span id='t104' style='top:517.90px;font-size:7.4px;-webkit-text-stroke:0.22px #000;right:98.70px;transform-origin:100% 0;transform:scaleX(0.9700);'>112.000,00</span>
<span id='t105' style='top:517.90px;font-size:7.4px;-webkit-text-stroke:0.22px #000;right:38.70px;transform-origin:100% 0;transform:scaleX(0.9700);'>112.000,00</span>
<span id='t106' style='top:551.01px;font-size:8.5px;left:47.50px;transform-origin:0 0;transform:scaleX(0.9600);'>1.1.02.05</span>
<span id='t107' style='top:551.01px;font-size:8.5px;letter-spacing:0.4px;-webkit-text-stroke:0.1px #000;left:161.80px;transform-origin:0 0;transform:scaleX(0.8245);'>ANTICIPOS DE TRABAJADORES</span>
<span id='t108' style='top:566.31px;font-size:8.5px;left:47.50px;transform-origin:0 0;transform:scaleX(0.9600);'>1.1.02.05.02</span>
<span id='t109' style='top:566.31px;font-size:8.5px;letter-spacing:0.4px;-webkit-text-stroke:0.1px #000;left:177.20px;transform-origin:0 0;transform:scaleX(0.8312);'>ANTICIPO DE SUELDOS</span>
<span id='t110' style='top:566.10px;font-size:7.4px;-webkit-text-stroke:0.22px #000;right:266.70px;transform-origin:100% 0;transform:scaleX(0.9700);'>-12.683.101,00</span>
<span id='t111' style='top:566.10px;font-size:7.4px;-webkit-text-stroke:0.22px #000;right:211.10px;transform-origin:100% 0;transform:scaleX(0.9700);'>0,00</span>
<span id='t112' style='top:566.10px;font-size:7.4px;-webkit-text-stroke:0.22px #000;right:156.10px;transform-origin:100% 0;transform:scaleX(0.9700);'>0,00</span>
<span id='t113' style='top:566.10px;font-size:7.4px;-webkit-text-stroke:0.22px #000;right:98.70px;transform-origin:100% 0;transform:scaleX(0.9700);'>0,00</span>
<span id='t114' style='top:566.10px;font-size:7.4px;-webkit-text-stroke:0.22px #000;right:38.70px;transform-origin:100% 0;transform:scaleX(0.9700);'>-12.683.101,00</span>
<span id='t115' style='top:584.21px;font-size:8.5px;left:47.50px;transform-origin:0 0;transform:scaleX(0.9600);'>1.1.02.05.04</span>
<span id='t116' style='top:584.21px;font-size:8.5px;letter-spacing:0.4px;-webkit-text-stroke:0.1px #000;left:177.20px;transform-origin:0 0;transform:scaleX(0.8517);'>ANTICIPO DE UTILIDADES</span>
<span id='t117' style='top:584.00px;font-size:7.4px;-webkit-text-stroke:0.22px #000;right:266.70px;transform-origin:100% 0;transform:scaleX(0.9700);'>-12.051.327,00</span>
<span id='t118' style='top:584.00px;font-size:7.4px;-webkit-text-stroke:0.22px #000;right:211.10px;transform-origin:100% 0;transform:scaleX(0.9700);'>0,00</span>
<span id='t119' style='top:584.00px;font-size:7.4px;-webkit-text-stroke:0.22px #000;right:156.10px;transform-origin:100% 0;transform:scaleX(0.9700);'>0,00</span>
<span id='t120' style='top:584.00px;font-size:7.4px;-webkit-text-stroke:0.22px #000;right:98.70px;transform-origin:100% 0;transform:scaleX(0.9700);'>0,00</span>
<span id='t121' style='top:584.00px;font-size:7.4px;-webkit-text-stroke:0.22px #000;right:38.70px;transform-origin:100% 0;transform:scaleX(0.9700);'>-12.051.327,00</span>
<span id='t122' style='top:616.31px;font-size:8.5px;left:47.50px;transform-origin:0 0;transform:scaleX(0.9600);'>1.1.02.08</span>
<span id='t123' style='top:616.31px;font-size:8.5px;letter-spacing:0.4px;-webkit-text-stroke:0.1px #000;left:161.80px;transform-origin:0 0;transform:scaleX(0.8376);'>ANTICIPOS DE IMPUESTOS</span>
<span id='t124' style='top:631.21px;font-size:8.5px;left:47.50px;transform-origin:0 0;transform:scaleX(0.9600);'>1.1.02.08.01</span>
<span id='t125' style='top:631.21px;font-size:8.5px;letter-spacing:0.4px;-webkit-text-stroke:0.1px #000;left:177.20px;transform-origin:0 0;transform:scaleX(0.8526);'>ISLR RETENIDO</span>
<span id='t126' style='top:631.00px;font-size:7.4px;-webkit-text-stroke:0.22px #000;right:266.70px;transform-origin:100% 0;transform:scaleX(0.9700);'>126.409,96</span>
<span id='t127' style='top:631.00px;font-size:7.4px;-webkit-text-stroke:0.22px #000;right:211.10px;transform-origin:100% 0;transform:scaleX(0.9700);'>420.000,00</span>
<span id='t128' style='top:631.00px;font-size:7.4px;-webkit-text-stroke:0.22px #000;right:156.10px;transform-origin:100% 0;transform:scaleX(0.9700);'>0,00</span>
<span id='t129' style='top:631.00px;font-size:7.4px;-webkit-text-stroke:0.22px #000;right:98.70px;transform-origin:100% 0;transform:scaleX(0.9700);'>420.000,00</span>
<span id='t130' style='top:631.00px;font-size:7.4px;-webkit-text-stroke:0.22px #000;right:38.70px;transform-origin:100% 0;transform:scaleX(0.9700);'>546.409,96</span>
<span id='t131' style='top:648.91px;font-size:8.5px;left:47.50px;transform-origin:0 0;transform:scaleX(0.9600);'>1.1.02.08.02</span>
<span id='t132' style='top:648.91px;font-size:8.5px;letter-spacing:0.4px;-webkit-text-stroke:0.1px #000;left:177.20px;transform-origin:0 0;transform:scaleX(0.8341);'>IMPUESTO AL VALOR AGREGADO</span>
<span id='t133' style='top:648.70px;font-size:7.4px;-webkit-text-stroke:0.22px #000;right:266.70px;transform-origin:100% 0;transform:scaleX(0.9700);'>1.079,64</span>
<span id='t134' style='top:648.70px;font-size:7.4px;-webkit-text-stroke:0.22px #000;right:211.10px;transform-origin:100% 0;transform:scaleX(0.9700);'>1.890.000,00</span>
<span id='t135' style='top:648.70px;font-size:7.4px;-webkit-text-stroke:0.22px #000;right:156.10px;transform-origin:100% 0;transform:scaleX(0.9700);'>0,00</span>
<span id='t136' style='top:648.70px;font-size:7.4px;-webkit-text-stroke:0.22px #000;right:98.70px;transform-origin:100% 0;transform:scaleX(0.9700);'>1.890.000,00</span>
<span id='t137' style='top:648.70px;font-size:7.4px;-webkit-text-stroke:0.22px #000;right:38.70px;transform-origin:100% 0;transform:scaleX(0.9700);'>1.891.079,64</span>
<span id='t138' style='top:682.41px;font-size:8.5px;left:47.50px;transform-origin:0 0;transform:scaleX(0.9600);'>1.1.02.09</span>
<span id='t139' style='top:682.41px;font-size:8.5px;letter-spacing:0.4px;-webkit-text-stroke:0.1px #000;left:161.80px;transform-origin:0 0;transform:scaleX(0.8272);'>OTROS ACTIVOS FINANCIEROS CORRIENTES</span>
<span id='t140' style='top:697.41px;font-size:8.5px;left:47.50px;transform-origin:0 0;transform:scaleX(0.9600);'>1.1.02.09.02</span>
<span id='t141' style='top:697.41px;font-size:8.5px;letter-spacing:0.4px;-webkit-text-stroke:0.1px #000;left:177.20px;transform-origin:0 0;transform:scaleX(0.8335);'>ANTICIPO A PROVEEDORES</span>
<span id='t142' style='top:697.20px;font-size:7.4px;-webkit-text-stroke:0.22px #000;right:266.70px;transform-origin:100% 0;transform:scaleX(0.9700);'>400.000,00</span>
<span id='t143' style='top:697.20px;font-size:7.4px;-webkit-text-stroke:0.22px #000;right:211.10px;transform-origin:100% 0;transform:scaleX(0.9700);'>0,00</span>
<span id='t144' style='top:697.20px;font-size:7.4px;-webkit-text-stroke:0.22px #000;right:156.10px;transform-origin:100% 0;transform:scaleX(0.9700);'>0,00</span>
<span id='t145' style='top:697.20px;font-size:7.4px;-webkit-text-stroke:0.22px #000;right:98.70px;transform-origin:100% 0;transform:scaleX(0.9700);'>0,00</span>
<span id='t146' style='top:697.20px;font-size:7.4px;-webkit-text-stroke:0.22px #000;right:38.70px;transform-origin:100% 0;transform:scaleX(0.9700);'>400.000,00</span>
<span id='t147' style='top:713.91px;font-size:8.5px;left:47.50px;transform-origin:0 0;transform:scaleX(0.9600);'>1.1.02.09.99</span>
<span id='t148' style='top:713.91px;font-size:8.5px;letter-spacing:0.4px;-webkit-text-stroke:0.1px #000;left:177.20px;transform-origin:0 0;transform:scaleX(0.7784);'>SOBRANTE DE CAJA</span>
<span id='t149' style='top:713.70px;font-size:7.4px;-webkit-text-stroke:0.22px #000;right:266.70px;transform-origin:100% 0;transform:scaleX(0.9700);'>-5.260.979,00</span>
<span id='t150' style='top:713.70px;font-size:7.4px;-webkit-text-stroke:0.22px #000;right:211.10px;transform-origin:100% 0;transform:scaleX(0.9700);'>0,00</span>
<span id='t151' style='top:713.70px;font-size:7.4px;-webkit-text-stroke:0.22px #000;right:156.10px;transform-origin:100% 0;transform:scaleX(0.9700);'>0,00</span>
<span id='t152' style='top:713.70px;font-size:7.4px;-webkit-text-stroke:0.22px #000;right:98.70px;transform-origin:100% 0;transform:scaleX(0.9700);'>0,00</span>
<span id='t153' style='top:713.70px;font-size:7.4px;-webkit-text-stroke:0.22px #000;right:38.70px;transform-origin:100% 0;transform:scaleX(0.9700);'>-5.260.979,00</span>
<span id='t154' style='top:765.21px;font-size:8.5px;left:47.50px;transform-origin:0 0;transform:scaleX(0.9600);'>1.1.04</span>
<span id='t155' style='top:763.51px;font-size:8.5px;letter-spacing:0.4px;-webkit-text-stroke:0.1px #000;left:146.00px;transform-origin:0 0;transform:scaleX(0.8395);'>INVENTARIO DE MERCANCIA</span>
<span id='t156' style='top:778.81px;font-size:8.5px;left:47.50px;transform-origin:0 0;transform:scaleX(0.9600);'>1.1.04.01</span>
<span id='t157' style='top:778.81px;font-size:8.5px;letter-spacing:0.4px;-webkit-text-stroke:0.1px #000;left:161.80px;transform-origin:0 0;transform:scaleX(0.8286);'>PRODUCTOS ALIMENTICIOS Y BEBIDAS NO ALCOHOLICAS</span>
<span id='t158' style='top:305.27px;font-size:7.1px;letter-spacing:0.3px;-webkit-text-stroke:0.1px #000;left:156.60px;transform-origin:0 0;transform:scaleX(0.9244);'>Total de 1.1.01.01 CAJAS</span>
<span id='t159' style='top:440.67px;font-size:7.1px;letter-spacing:0.3px;-webkit-text-stroke:0.1px #000;left:156.60px;transform-origin:0 0;transform:scaleX(0.9262);'>Total de 1.1.01.02 BANCOS</span>
<span id='t160' style='top:439.80px;font-size:7.4px;font-weight:bold;-webkit-text-stroke:0.05px #000;right:266.30px;transform-origin:100% 0;transform:scaleX(1.1300);'>66.816.289,02</span>
<span id='t161' style='top:439.80px;font-size:7.4px;font-weight:bold;-webkit-text-stroke:0.05px #000;right:210.70px;transform-origin:100% 0;transform:scaleX(1.1300);'>0,00</span>
<span id='t162' style='top:439.80px;font-size:7.4px;font-weight:bold;-webkit-text-stroke:0.05px #000;right:155.70px;transform-origin:100% 0;transform:scaleX(1.1300);'>60.000,00</span>
<span id='t163' style='top:439.80px;font-size:7.4px;font-weight:bold;-webkit-text-stroke:0.05px #000;right:98.30px;transform-origin:100% 0;transform:scaleX(1.1300);'>-60.000,00</span>
<span id='t164' style='top:439.80px;font-size:7.4px;font-weight:bold;-webkit-text-stroke:0.05px #000;right:38.30px;transform-origin:100% 0;transform:scaleX(1.1300);'>66.756.289,02</span>
<span id='t165' style='top:456.77px;font-size:7.1px;letter-spacing:0.3px;-webkit-text-stroke:0.1px #000;left:142.60px;transform-origin:0 0;transform:scaleX(0.9042);'>Total de 1.1.01 EFECTIVO Y EQUIVALENTES DE EFECTIVO</span>
<span id='t166' style='top:537.77px;font-size:7.1px;letter-spacing:0.3px;-webkit-text-stroke:0.1px #000;left:156.60px;transform-origin:0 0;transform:scaleX(0.8942);'>Total de 1.1.02.01 CUENTAS POR COBRAR COMERCIALES</span>
<span id='t167' style='top:602.77px;font-size:7.1px;letter-spacing:0.3px;-webkit-text-stroke:0.1px #000;left:156.60px;transform-origin:0 0;transform:scaleX(0.9119);'>Total de 1.1.02.05 ANTICIPOS DE TRABAJADORES</span>
<span id='t168' style='top:667.97px;font-size:7.1px;letter-spacing:0.3px;-webkit-text-stroke:0.1px #000;left:156.60px;transform-origin:0 0;transform:scaleX(0.9225);'>Total de 1.1.02.08 ANTICIPOS DE IMPUESTOS</span>
<span id='t169' style='top:733.87px;font-size:7.1px;letter-spacing:0.3px;-webkit-text-stroke:0.1px #000;left:156.60px;transform-origin:0 0;transform:scaleX(0.9050);'>Total de 1.1.02.09 OTROS ACTIVOS FINANCIEROS CORRIENTES</span>
<span id='t170' style='top:733.10px;font-size:7.4px;font-weight:bold;-webkit-text-stroke:0.05px #000;right:266.30px;transform-origin:100% 0;transform:scaleX(1.1300);'>-4.860.979,00</span>
<span id='t171' style='top:733.10px;font-size:7.4px;font-weight:bold;-webkit-text-stroke:0.05px #000;right:210.70px;transform-origin:100% 0;transform:scaleX(1.1300);'>0,00</span>
<span id='t172' style='top:733.10px;font-size:7.4px;font-weight:bold;-webkit-text-stroke:0.05px #000;right:155.70px;transform-origin:100% 0;transform:scaleX(1.1300);'>0,00</span>
<span id='t173' style='top:733.10px;font-size:7.4px;font-weight:bold;-webkit-text-stroke:0.05px #000;right:98.30px;transform-origin:100% 0;transform:scaleX(1.1300);'>0,00</span>
<span id='t174' style='top:733.10px;font-size:7.4px;font-weight:bold;-webkit-text-stroke:0.05px #000;right:38.30px;transform-origin:100% 0;transform:scaleX(1.1300);'>-4.860.979,00</span>
<span id='t175' style='top:749.67px;font-size:7.1px;letter-spacing:0.3px;-webkit-text-stroke:0.1px #000;left:142.60px;transform-origin:0 0;transform:scaleX(0.9142);'>Total de 1.1.02 CREDITOS O EXIGIBLES</span>
</div>
</body></html>
